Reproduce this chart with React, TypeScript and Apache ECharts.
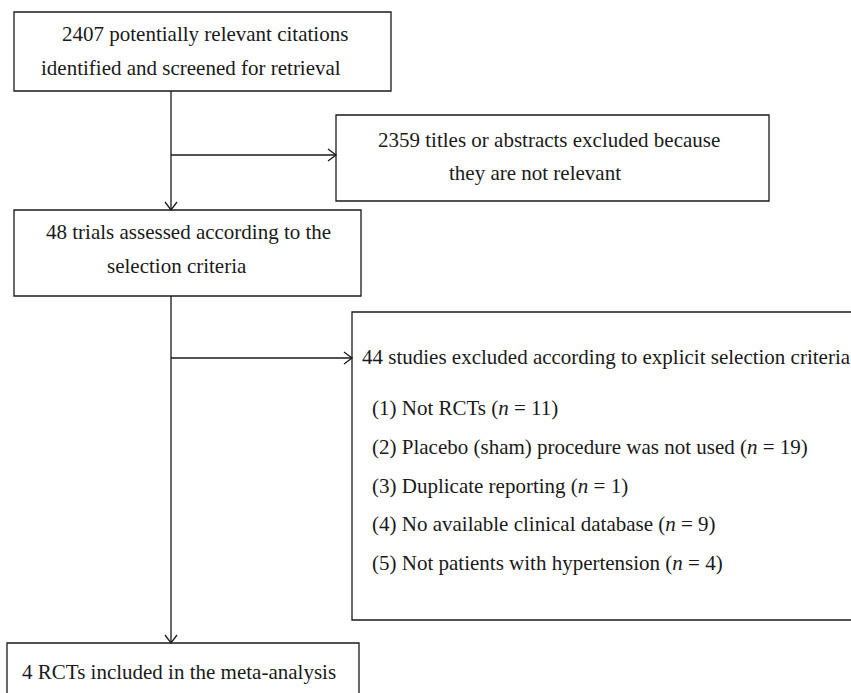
import React, { useEffect, useRef } from "react";
import * as echarts from "echarts";

// Box texts (flow diagram content)
const box1Lines = ["2407 potentially relevant citations", "identified and screened for retrieval"];
const box2Lines = ["48 trials assessed according to the", "selection criteria"];
const box3Lines = ["2359 titles or abstracts excluded because", "they are not relevant"];
const box4Heading = "44 studies excluded according to explicit selection criteria";
const box4Items = [
  "(1) Not RCTs ({i|n} = 11)",
  "(2) Placebo (sham) procedure was not used ({i|n} = 19)",
  "(3) Duplicate reporting ({i|n} = 1)",
  "(4) No available clinical database ({i|n} = 9)",
  "(5) Not patients with hypertension ({i|n} = 4)",
];
const box5Lines = ["4 RCTs included in the meta-analysis"];

const FONT = "'Liberation Serif', 'Times New Roman', serif";
const INK = "#1a1a1a";
const FS = 21;

function rectEl(x: number, y: number, w: number, h: number) {
  return {
    type: "rect",
    shape: { x, y, width: w, height: h },
    style: { fill: "#fff", stroke: INK, lineWidth: 1.3 },
    z: 1,
  };
}

function textEl(text: string, x: number, y: number) {
  return {
    type: "text",
    x,
    y,
    style: {
      text,
      font: `${FS}px ${FONT}`,
      fontFamily: FONT,
      fontSize: FS,
      fill: INK,
      align: "left",
      verticalAlign: "middle",
      rich: {
        i: { fontStyle: "italic", fontSize: FS, fontFamily: FONT, fill: INK },
      },
    },
    z: 3,
  };
}

function lineEl(x1: number, y1: number, x2: number, y2: number) {
  return {
    type: "line",
    shape: { x1, y1, x2, y2 },
    style: { stroke: INK, lineWidth: 1.3 },
    z: 2,
  };
}

function arrowDown(x: number, y: number) {
  return {
    type: "polyline",
    shape: { points: [[x - 6, y - 8], [x, y], [x + 6, y - 8]] },
    style: { stroke: INK, lineWidth: 1.3, fill: "none" },
    z: 2,
  };
}

function arrowRight(x: number, y: number) {
  return {
    type: "polyline",
    shape: { points: [[x - 8, y - 6], [x, y], [x - 8, y + 6]] },
    style: { stroke: INK, lineWidth: 1.3, fill: "none" },
    z: 2,
  };
}

export default function App() {
  const ref = useRef<HTMLDivElement>(null);
  useEffect(() => {
    if (!ref.current) return;
    const chart = echarts.init(ref.current, null, { renderer: "svg" });
    const mainX = 171;
    const elements: any[] = [
      // boxes
      rectEl(14, 12, 377, 79),
      rectEl(336, 115, 433, 86),
      rectEl(14, 210, 347, 86),
      rectEl(352, 312, 520, 308),
      rectEl(7, 643, 352, 80),
      // connectors
      lineEl(mainX, 91, mainX, 210),
      arrowDown(mainX, 210),
      lineEl(mainX, 155, 336, 155),
      arrowRight(336, 155),
      lineEl(mainX, 296, mainX, 643),
      arrowDown(mainX, 643),
      lineEl(mainX, 358, 352, 358),
      arrowRight(352, 358),
      // texts
      textEl(box1Lines[0], 62, 34),
      textEl(box1Lines[1], 41, 68),
      textEl(box3Lines[0], 378, 140),
      textEl(box3Lines[1], 449, 173),
      textEl(box2Lines[0], 46, 232),
      textEl(box2Lines[1], 107, 266),
      textEl(box4Heading, 362, 357),
      textEl(box5Lines[0], 22, 672),
    ];
    const itemYs = [408, 447, 486, 524, 563];
    box4Items.forEach((t, i) => elements.push(textEl(t, 372, itemYs[i])));
    chart.setOption({
      animation: false,
      backgroundColor: "#ffffff",
      graphic: { elements },
    });
    return () => chart.dispose();
  }, []);
  return (
    <div
      ref={ref}
      style={{ position: "fixed", left: 0, top: 0, width: 851, height: 693, background: "#fff" }}
    />
  );
}
